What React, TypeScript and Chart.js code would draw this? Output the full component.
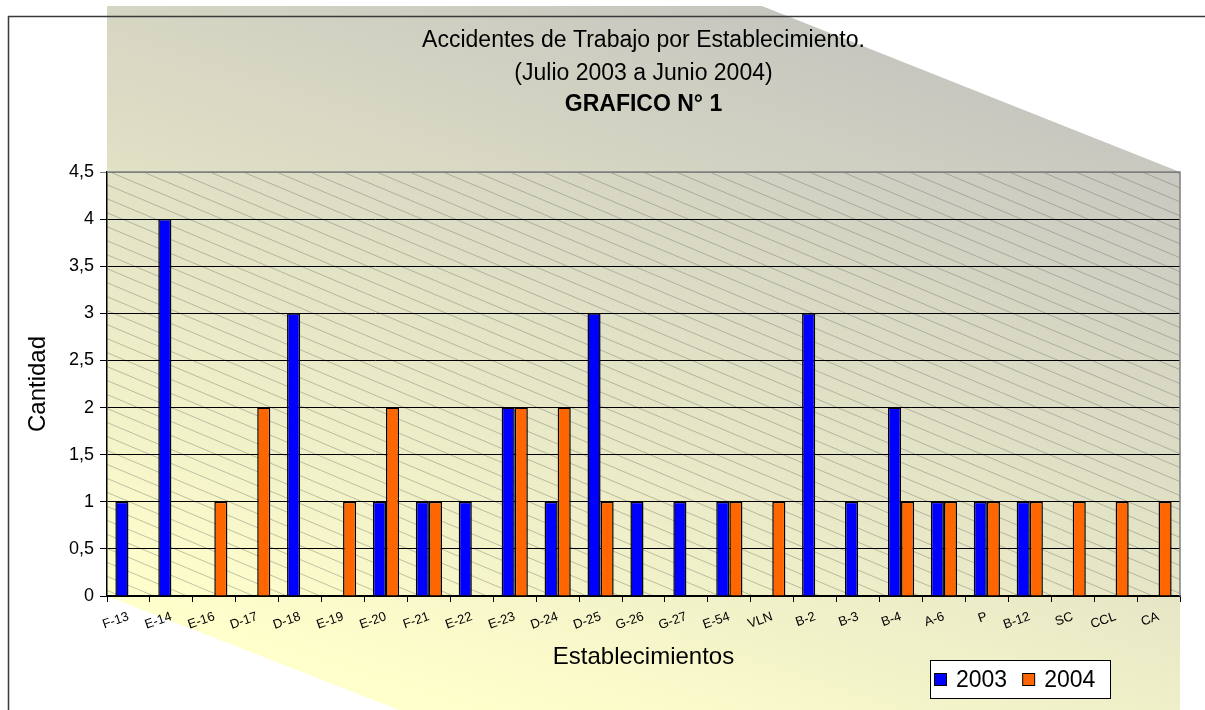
import React, { useEffect, useRef } from 'react';
import { Chart, registerables } from 'chart.js';

Chart.register(...registerables);

const categories = ['F-13', 'E-14', 'E-16', 'D-17', 'D-18', 'E-19', 'E-20', 'F-21', 'E-22', 'E-23', 'D-24', 'D-25', 'G-26', 'G-27', 'E-54', 'VLN', 'B-2', 'B-3', 'B-4', 'A-6', 'P', 'B-12', 'SC', 'CCL', 'CA'];
const values2003 = [1, 4, 0, 0, 3, 0, 1, 1, 1, 2, 1, 3, 1, 1, 1, 0, 3, 1, 2, 1, 1, 1, 0, 0, 0];
const values2004 = [0, 0, 1, 2, 0, 1, 2, 1, 0, 2, 2, 1, 0, 0, 1, 1, 0, 0, 1, 1, 1, 1, 1, 1, 1];
const seriesLabels = ['2003', '2004'];
const seriesColors = ['#0000FF', '#FF6600'];
const titleLines = ['Accidentes de Trabajo por Establecimiento.', '(Julio 2003 a Junio 2004)'];
const subtitleText = 'GRAFICO N° 1';
const yAxisTitle = 'Cantidad';
const xAxisTitle = 'Establecimientos';
const yMin = 0;
const yMax = 4.5;
const yStep = 0.5;

const FONT = '"Liberation Sans", Arial, sans-serif';

const backgroundPlugin = {
  id: 'bgDecor',
  beforeDraw(chart: any) {
    const { ctx, width: W, height: H, chartArea: ca } = chart;
    ctx.save();
    ctx.fillStyle = '#ffffff';
    ctx.fillRect(0, 0, W, H);

    const g = ctx.createLinearGradient(1180, 31, 911, 852);
    g.addColorStop(0, 'rgb(190,190,190)');
    g.addColorStop(1, 'rgb(255,255,204)');
    ctx.fillStyle = g;
    ctx.beginPath();
    ctx.moveTo(ca.left, 6);
    ctx.lineTo(762, 6);
    ctx.lineTo(ca.right, ca.top);
    ctx.lineTo(ca.right, H);
    ctx.lineTo(ca.left + (H - ca.bottom) / 0.39, H);
    ctx.lineTo(ca.left, ca.bottom);
    ctx.closePath();
    ctx.fill();

    // diagonal hatch inside plot area
    ctx.save();
    ctx.beginPath();
    ctx.rect(ca.left, ca.top, ca.right - ca.left, ca.bottom - ca.top);
    ctx.clip();
    const slope = 0.42;
    const sp = 33.3;
    const h = ca.bottom - ca.top;
    ctx.strokeStyle = 'rgba(95,95,95,0.36)';
    ctx.lineWidth = 1;
    const run = h / slope;
    for (let x0 = ca.left + 3 - Math.ceil(run / sp) * sp; x0 < ca.right; x0 += sp) {
      ctx.beginPath();
      ctx.moveTo(x0, ca.top);
      ctx.lineTo(x0 + run, ca.bottom);
      ctx.stroke();
    }
    ctx.restore();

    // outer frame
    ctx.strokeStyle = '#3a3a3a';
    ctx.lineWidth = 1.5;
    ctx.beginPath();
    ctx.moveTo(8.5, H + 2);
    ctx.lineTo(8.5, 16.5);
    ctx.lineTo(W + 2, 16.5);
    ctx.stroke();
    ctx.restore();
  },
  beforeDatasetsDraw(chart: any) {
    const { ctx, chartArea: ca } = chart;
    ctx.save();
    ctx.strokeStyle = '#808080';
    ctx.lineWidth = 1.5;
    ctx.beginPath();
    ctx.moveTo(ca.left, ca.top);
    ctx.lineTo(ca.right, ca.top);
    ctx.lineTo(ca.right, ca.bottom);
    ctx.stroke();
    ctx.restore();
  },
};

const legendPlugin = {
  id: 'boxLegend',
  afterDraw(chart: any) {
    const { ctx } = chart;
    ctx.save();
    const bx = 930.5, by = 660.5, bw = 180, bh = 38;
    ctx.fillStyle = '#ffffff';
    ctx.fillRect(bx, by, bw, bh);
    ctx.strokeStyle = '#000000';
    ctx.lineWidth = 1;
    ctx.strokeRect(bx, by, bw, bh);
    ctx.font = `23px ${FONT}`;
    ctx.textBaseline = 'middle';
    ctx.textAlign = 'left';
    let x = 934;
    const cy = 680;
    chart.data.datasets.forEach((ds: any) => {
      ctx.fillStyle = ds.backgroundColor;
      ctx.fillRect(x + 0.5, cy - 6.5, 12, 12);
      ctx.strokeStyle = '#000';
      ctx.strokeRect(x + 0.5, cy - 6.5, 12, 12);
      ctx.fillStyle = '#000';
      ctx.fillText(ds.label, x + 22, cy + 1);
      x += 22 + ctx.measureText(ds.label).width + 15;
    });
    ctx.restore();
  },
};

export default function App() {
  const ref = useRef<HTMLCanvasElement | null>(null);
  useEffect(() => {
    document.body.style.margin = '0';
    const canvas = ref.current;
    if (!canvas) return;
    const chart = new Chart(canvas, {
      type: 'bar',
      data: {
        labels: categories,
        datasets: [
          {
            label: seriesLabels[0],
            data: values2003,
            backgroundColor: seriesColors[0],
            borderColor: '#000000',
            borderWidth: 1.5,
            categoryPercentage: 0.61,
            barPercentage: 1.0,
          },
          {
            label: seriesLabels[1],
            data: values2004,
            backgroundColor: seriesColors[1],
            borderColor: '#000000',
            borderWidth: 1.5,
            categoryPercentage: 0.61,
            barPercentage: 1.0,
          },
        ],
      },
      options: {
        responsive: false,
        animation: false,
        devicePixelRatio: 1,
        layout: { padding: { left: 0, right: 25, top: 0, bottom: 0 } },
        plugins: {
          legend: { display: false },
          tooltip: { enabled: false },
          title: {
            display: true,
            fullSize: false,
            text: titleLines,
            color: '#000',
            font: { family: FONT, size: 23, weight: 'normal', lineHeight: '33px' },
            padding: { top: 24, bottom: 0 },
          },
          subtitle: {
            display: true,
            fullSize: false,
            text: subtitleText,
            color: '#000',
            font: { family: FONT, size: 23, weight: 'bold', lineHeight: '30px' },
            padding: { top: 0, bottom: 52 },
          },
        },
        scales: {
          x: {
            afterFit(scale: any) {
              scale.height = 114;
            },
            grid: {
              display: true,
              drawOnChartArea: false,
              drawTicks: true,
              tickLength: 6,
              color: '#000',
              offset: true,
            },
            border: { display: true, color: '#000', width: 1.5 },
            ticks: {
              autoSkip: false,
              minRotation: 19,
              maxRotation: 19,
              padding: 7,
              color: '#000',
              font: { family: FONT, size: 13 },
            },
            title: {
              display: true,
              text: xAxisTitle,
              color: '#000',
              font: { family: FONT, size: 24 },
              padding: { top: 0, bottom: 38.6 },
            },
          },
          y: {
            min: yMin,
            max: yMax,
            afterFit(scale: any) {
              scale.width = 107;
            },
            grid: {
              color: (c: any) => (c.tick && c.tick.value === yMax ? '#808080' : '#000000'),
              lineWidth: 1,
              drawTicks: true,
              tickLength: 7,
            },
            border: { display: true, color: '#000', width: 1.5 },
            ticks: {
              stepSize: yStep,
              padding: 6,
              color: '#000',
              font: { family: FONT, size: 18 },
              callback: (v: any) => String(v).replace('.', ','),
            },
            title: {
              display: true,
              text: yAxisTitle,
              color: '#000',
              font: { family: FONT, size: 24 },
              padding: { top: 23.6, bottom: 0 },
            },
          },
        },
      },
      plugins: [backgroundPlugin, legendPlugin],
    } as any);
    return () => chart.destroy();
  }, []);
  return (
    <div style={{ width: 1205, height: 710 }}>
      <canvas ref={ref} width={1205} height={710} style={{ display: 'block' }} />
    </div>
  );
}
